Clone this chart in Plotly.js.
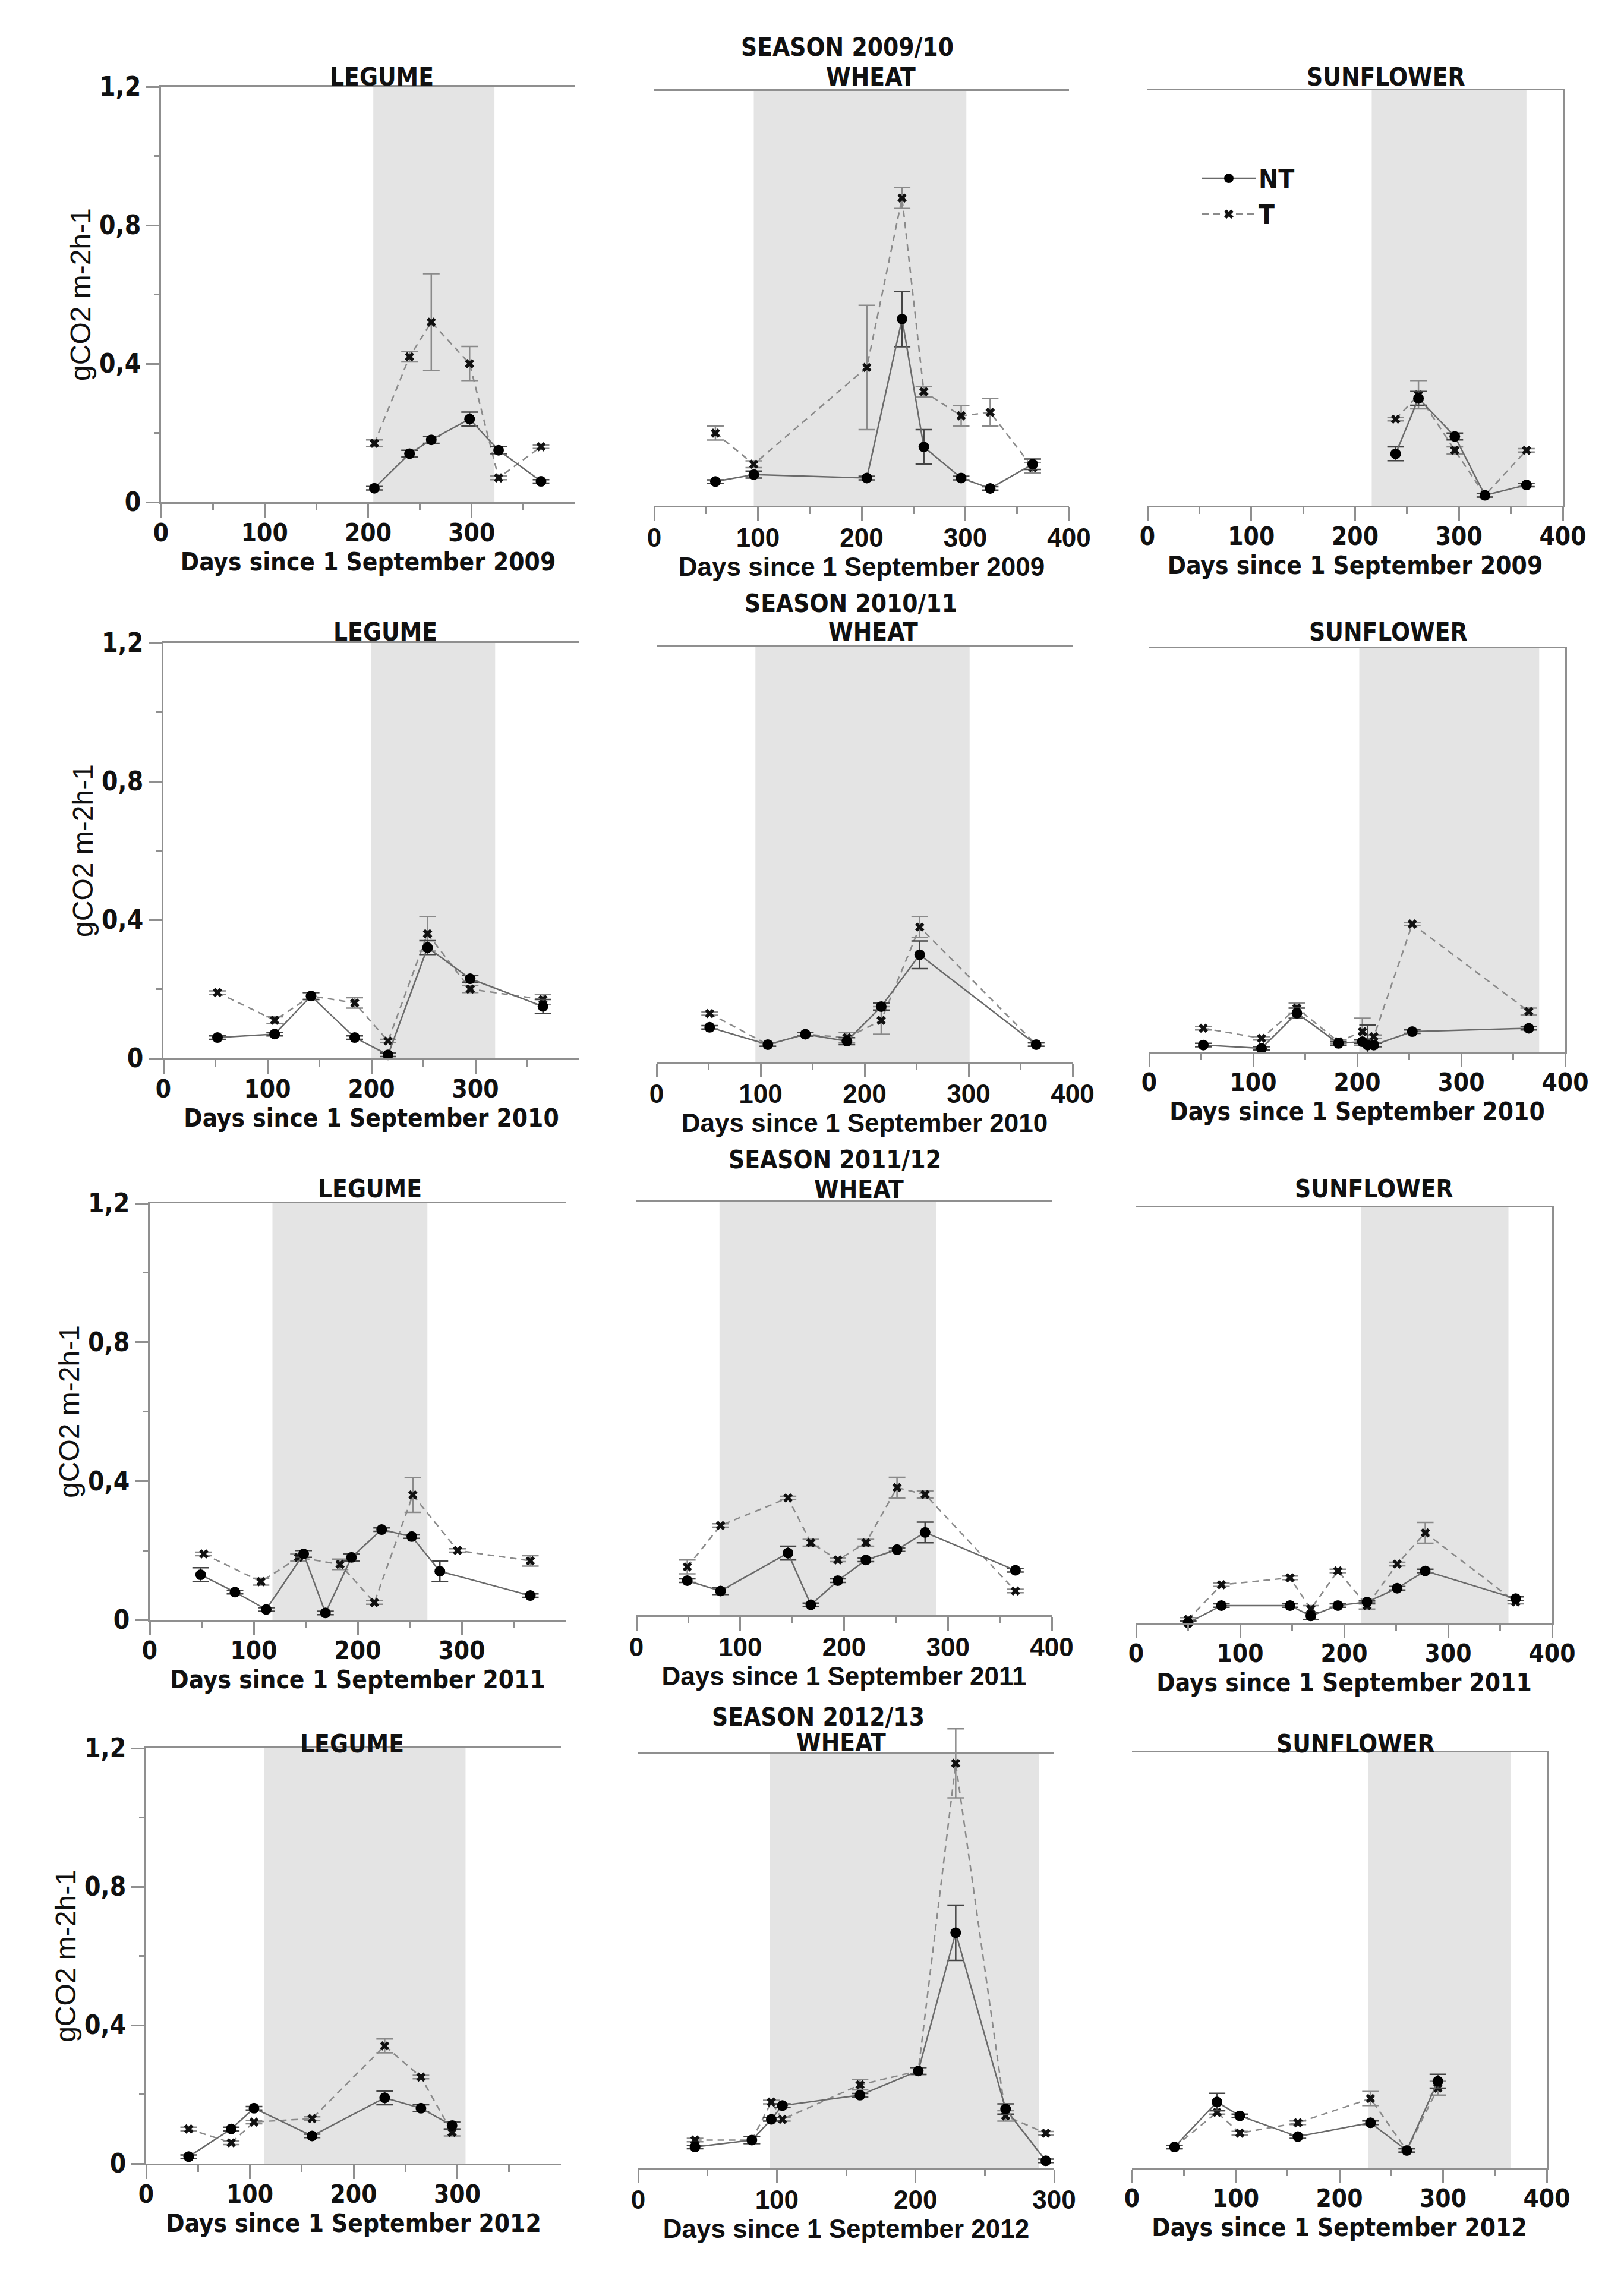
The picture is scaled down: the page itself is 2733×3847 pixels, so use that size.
<!DOCTYPE html>
<html>
<head>
<meta charset="utf-8">
<script src="https://cdn.plot.ly/plotly-3.0.1.min.js"></script>
<style>
  html, body { margin: 0; padding: 0; background: #fff; }
  #chart { width: 2733px; height: 3847px; }
</style>
</head>
<body>
<div id="chart"></div>
<script>
const W = 2733, H = 3847;

// ---- labels ----
const SEASONS = ["SEASON 2009/10", "SEASON 2010/11", "SEASON 2011/12", "SEASON 2012/13"];
const YEARS = ["2009", "2010", "2011", "2012"];
const CROPS = ["LEGUME", "WHEAT", "SUNFLOWER"];
const Y_TICKS = [0, 0.4, 0.8, 1.2];
const Y_TICK_LABELS = ["0", "0,4", "0,8", "1,2"];

// ---- season 2009/10 ----
const leg09Days = [206, 240, 261, 298, 326, 367];
const leg09NT = [0.04, 0.14, 0.18, 0.24, 0.15, 0.06];
const leg09NTErr = [0.005, 0.01, 0.01, 0.02, 0.01, 0.005];
const leg09T = [0.17, 0.42, 0.52, 0.40, 0.07, 0.16];
const leg09TErr = [0.01, 0.015, 0.14, 0.05, 0.005, 0.005];

const whe09Days = [59, 96, 205, 239, 260, 296, 324, 365];
const whe09NT = [0.07, 0.09, 0.08, 0.54, 0.17, 0.08, 0.05, 0.12];
const whe09NTErr = [0.005, 0.01, 0.005, 0.08, 0.05, 0.005, 0.005, 0.015];
const whe09T = [0.21, 0.12, 0.40, 0.89, 0.33, 0.26, 0.27, 0.11];
const whe09TErr = [0.02, 0.01, 0.18, 0.03, 0.015, 0.03, 0.04, 0.015];

const sun09Days = [239, 261, 296, 325, 365];
const sun09NT = [0.15, 0.31, 0.20, 0.03, 0.06];
const sun09NTErr = [0.02, 0.02, 0.01, 0.005, 0.005];
const sun09T = [0.25, 0.32, 0.16, 0.03, 0.16];
const sun09TErr = [0.005, 0.04, 0.01, 0.005, 0.005];

// ---- season 2010/11 ----
const leg10Days = [52, 107, 142, 184, 216, 254, 295, 365];
const leg10NT = [0.06, 0.07, 0.18, 0.06, 0.01, 0.32, 0.23, 0.15];
const leg10NTErr = [0.005, 0.005, 0.01, 0.005, 0.005, 0.02, 0.01, 0.02];
const leg10T = [0.19, 0.11, 0.18, 0.16, 0.05, 0.36, 0.20, 0.17];
const leg10TErr = [0.005, 0.01, 0.01, 0.015, 0.005, 0.05, 0.01, 0.015];

const whe10Days = [51, 107, 143, 183, 216, 253, 365];
const whe10NT = [0.10, 0.05, 0.08, 0.06, 0.16, 0.31, 0.05];
const whe10NTErr = [0.005, 0.005, 0.005, 0.01, 0.01, 0.04, 0.005];
const whe10T = [0.14, 0.05, 0.08, 0.07, 0.12, 0.39, 0.05];
const whe10TErr = [0.005, 0.005, 0.005, 0.015, 0.04, 0.03, 0.005];

const sun10Days = [52, 108, 142, 182, 205, 210, 216, 253, 365];
const sun10NT = [0.02, 0.01, 0.115, 0.025, 0.03, 0.02, 0.02, 0.06, 0.07];
const sun10NTErr = [0.005, 0.005, 0.015, 0.005, 0.005, 0.06, 0.005, 0.005, 0.005];
const sun10T = [0.07, 0.04, 0.13, 0.03, 0.06, null, 0.045, 0.38, 0.12];
const sun10TErr = [0.005, 0.005, 0.015, 0.005, 0.04, 0, 0.005, 0.005, 0.01];

// ---- season 2011/12 ----
const leg11DaysNT = [49, 82, 112, 148, 169, 194, 223, 252, 279, 366];
const leg11NT = [0.13, 0.08, 0.03, 0.19, 0.02, 0.18, 0.26, 0.24, 0.14, 0.07];
const leg11NTErr = [0.02, 0.005, 0.005, 0.01, 0.005, 0.01, 0.005, 0.005, 0.03, 0.005];
const leg11DaysT = [52, 107, 143, 183, 216, 253, 296, 366];
const leg11T = [0.19, 0.11, 0.18, 0.16, 0.05, 0.36, 0.20, 0.17];
const leg11TErr = [0.005, 0.01, 0.01, 0.015, 0.005, 0.05, 0.005, 0.015];

const whe11Days = [49, 81, 146, 168, 194, 221, 251, 278, 365];
const whe11NT = [0.10, 0.07, 0.18, 0.03, 0.10, 0.16, 0.19, 0.24, 0.13];
const whe11NTErr = [0.005, 0.01, 0.02, 0.005, 0.005, 0.005, 0.005, 0.03, 0.005];
const whe11T = [0.14, 0.26, 0.34, 0.21, 0.16, 0.21, 0.37, 0.35, 0.07];
const whe11TErr = [0.02, 0.005, 0.005, 0.01, 0.005, 0.01, 0.03, 0.01, 0.005];

const sun11Days = [50, 82, 148, 168, 194, 222, 251, 278, 365];
const sun11NT = [0.00, 0.05, 0.05, 0.02, 0.05, 0.06, 0.10, 0.15, 0.07];
const sun11NTErr = [0.005, 0.005, 0.005, 0.01, 0.005, 0.005, 0.005, 0.005, 0.005];
const sun11T = [0.01, 0.11, 0.13, 0.04, 0.15, 0.05, 0.17, 0.26, 0.06];
const sun11TErr = [0.005, 0.005, 0.005, 0.01, 0.005, 0.01, 0.005, 0.03, 0.005];

// ---- season 2012/13 ----
const leg12Days = [41, 82, 104, 160, 230, 265, 295];
const leg12NT = [0.02, 0.10, 0.16, 0.08, 0.19, 0.16, 0.11];
const leg12NTErr = [0.005, 0.005, 0.005, 0.005, 0.02, 0.01, 0.01];
const leg12T = [0.10, 0.06, 0.12, 0.13, 0.34, 0.25, 0.09];
const leg12TErr = [0.005, 0.005, 0.005, 0.005, 0.02, 0.005, 0.01];

const whe12Days = [41, 82, 96, 104, 160, 202, 229, 265, 294];
const whe12NT = [0.06, 0.08, 0.14, 0.18, 0.21, 0.28, 0.68, 0.17, 0.02];
const whe12NTErr = [0.005, 0.01, 0.005, 0.005, 0.005, 0.01, 0.08, 0.015, 0.005];
const whe12T = [0.08, 0.08, 0.19, 0.14, 0.24, 0.28, 1.17, 0.15, 0.10];
const whe12TErr = [0.005, 0.01, 0.005, 0.005, 0.015, 0.01, 0.10, 0.015, 0.005];

const sun12Days = [41, 82, 104, 160, 230, 265, 295];
const sun12NT = [0.06, 0.19, 0.15, 0.09, 0.13, 0.05, 0.25];
const sun12NTErr = [0.005, 0.025, 0.005, 0.005, 0.005, 0.005, 0.02];
const sun12T = [0.06, 0.16, 0.10, 0.13, 0.20, 0.05, 0.23];
const sun12TErr = [0.005, 0.005, 0.005, 0.005, 0.02, 0.005, 0.02];

// crop growth periods (grey bands), days
const cropPeriods = [
  [205, 322], [96, 301], [216, 365],
  [200, 319], [95, 301], [202, 375],
  [118, 267], [80, 289], [216, 358],
  [114, 308], [95, 289], [228, 365]
];

const panelData = [
  [leg09Days, leg09NT, leg09NTErr, leg09Days, leg09T, leg09TErr],
  [whe09Days, whe09NT, whe09NTErr, whe09Days, whe09T, whe09TErr],
  [sun09Days, sun09NT, sun09NTErr, sun09Days, sun09T, sun09TErr],
  [leg10Days, leg10NT, leg10NTErr, leg10Days, leg10T, leg10TErr],
  [whe10Days, whe10NT, whe10NTErr, whe10Days, whe10T, whe10TErr],
  [sun10Days, sun10NT, sun10NTErr, sun10Days, sun10T, sun10TErr],
  [leg11DaysNT, leg11NT, leg11NTErr, leg11DaysT, leg11T, leg11TErr],
  [whe11Days, whe11NT, whe11NTErr, whe11Days, whe11T, whe11TErr],
  [sun11Days, sun11NT, sun11NTErr, sun11Days, sun11T, sun11TErr],
  [leg12Days, leg12NT, leg12NTErr, leg12Days, leg12T, leg12TErr],
  [whe12Days, whe12NT, whe12NTErr, whe12Days, whe12T, whe12TErr],
  [sun12Days, sun12NT, sun12NTErr, sun12Days, sun12T, sun12TErr]
];

// ---- page geometry (pixels): [left, right, top, bottom] of each plot frame ----
const FRAMES = [
  [271, 968, 146, 845], [1101, 1799, 153, 851], [1931, 2630, 152, 851],
  [275, 975, 1082, 1781], [1105, 1805, 1089, 1787], [1934, 2634, 1091, 1770],
  [252, 952, 2025, 2726], [1071, 1770, 2022, 2718], [1912, 2612, 2032, 2731],
  [246, 944, 2942, 3641], [1074, 1774, 2950, 3648], [1905, 2603, 2949, 3648]
];
const SEASON_POS = [[1426, 80], [1432, 1016], [1405, 1951], [1377, 2889]];
const CROP_POS = [
  [642, 129], [1465, 129], [2332, 129],
  [648, 1064], [1469, 1064], [2336, 1064],
  [622, 2000], [1445, 2001], [2312, 2000],
  [592, 2934], [1415, 2932], [2281, 2934]
];

const NARROW = '"Liberation Sans Narrow", "DejaVu Sans Condensed", sans-serif';
const WIDE = '"Liberation Sans", Arial, sans-serif';
const AXIS_GREY = "#8f8f8f";
const INK = "#111";

const traces = [];
const shapes = [];
const annotations = [];
const layout = {
  width: W,
  height: H,
  margin: { l: 0, r: 0, t: 0, b: 0 },
  paper_bgcolor: "#fff",
  plot_bgcolor: "rgba(0,0,0,0)",
  showlegend: true,
  legend: {
    x: 2018 / W, y: 1 - 265 / H, xanchor: "left", yanchor: "top",
    traceorder: "reversed",
    font: { family: NARROW, size: 44, color: INK, weight: "bold" },
    bgcolor: "rgba(0,0,0,0)",
    itemwidth: 90,
    tracegroupgap: 2
  }
};

panelData.forEach((d, i) => {
  const n = i + 1;
  const row = Math.floor(i / 3), col = i % 3;
  const [l, r, top, bottom] = FRAMES[i];
  const xId = "x" + n, yId = "y" + n;
  const xmax = (row === 3 && col === 1) ? 300 : 400;
  // the 2012/13 wheat T peak error bar rises above the frame, so give it head room
  const ymax = (row === 3 && col === 1) ? 1.3 : 1.2;
  const plotTop = bottom - (bottom - top) * ymax / 1.2;
  const wheat = col === 1;
  const tickFont = wheat
    ? { family: WIDE, size: 44, color: INK, weight: "bold" }
    : { family: NARROW, size: 42, color: INK, weight: "bold" };

  const majors = (col === 0 || xmax === 300) ? [0, 100, 200, 300] : [0, 100, 200, 300, 400];
  const minors = xmax === 300 ? [50, 150, 250] : [50, 150, 250, 350];

  layout["xaxis" + (n === 1 ? "" : n)] = {
    domain: [l / W, r / W],
    anchor: yId,
    range: [0, xmax],
    tickmode: "array",
    tickvals: majors,
    ticks: "outside", ticklen: 23, tickwidth: 3, tickcolor: AXIS_GREY,
    minor: { tickmode: "array", tickvals: minors, ticks: "outside", ticklen: 11, tickwidth: 3, tickcolor: AXIS_GREY },
    showline: true, linecolor: AXIS_GREY, linewidth: 3, mirror: ymax === 1.2,
    showgrid: false, zeroline: false,
    tickfont: tickFont,
    ticklabelstandoff: -10,
    title: { text: "Days since 1 September " + YEARS[row], font: tickFont, standoff: 0 },
    fixedrange: true
  };
  if (ymax !== 1.2) {
    shapes.push({
      type: "line", xref: xId, yref: yId, x0: 0, x1: xmax, y0: 1.2, y1: 1.2,
      line: { color: AXIS_GREY, width: 3 }
    });
  }

  const yax = {
    domain: [1 - bottom / H, 1 - plotTop / H],
    anchor: xId,
    range: [0, ymax],
    showgrid: false, zeroline: false,
    fixedrange: true
  };
  if (col === 0) {
    Object.assign(yax, {
      tickmode: "array", tickvals: Y_TICKS, ticktext: Y_TICK_LABELS,
      ticks: "outside", ticklen: 22, tickwidth: 3, tickcolor: AXIS_GREY,
      minor: { tickmode: "array", tickvals: [0.2, 0.6, 1.0], ticks: "outside", ticklen: 9, tickwidth: 3, tickcolor: AXIS_GREY },
      showline: true, linecolor: AXIS_GREY, linewidth: 3,
      tickfont: { family: NARROW, size: 44, color: INK, weight: "bold" },
      title: { text: "gCO2 m-2h-1", font: { family: WIDE, size: 48, color: INK }, standoff: 0 }
    });
  } else if (col === 2) {
    Object.assign(yax, {
      side: "right", showline: true, linecolor: AXIS_GREY, linewidth: 3,
      ticks: "", showticklabels: false
    });
  } else {
    Object.assign(yax, { showline: false, ticks: "", showticklabels: false });
  }
  layout["yaxis" + (n === 1 ? "" : n)] = yax;

  shapes.push({
    type: "rect", xref: xId, yref: yId, layer: "below",
    x0: cropPeriods[i][0], x1: cropPeriods[i][1], y0: 0, y1: 1.2,
    fillcolor: "#e4e4e4", line: { width: 0 }
  });

  const [ntDays, nt, ntErr, tDays, t, tErr] = d;
  traces.push({
    type: "scatter", mode: "lines+markers", name: "T", legendgroup: "T",
    showlegend: i === 0,
    x: tDays, y: t, xaxis: xId, yaxis: yId,
    connectgaps: true, cliponaxis: false,
    line: { color: "#8a8a8a", width: 2.5, dash: "11px,8px" },
    marker: { symbol: "x", size: 14, color: "#111" },
    error_y: { type: "data", array: tErr, visible: true, color: "#8a8a8a", thickness: 2.5, width: 14 }
  });
  traces.push({
    type: "scatter", mode: "lines+markers", name: "NT", legendgroup: "NT",
    showlegend: i === 0,
    x: ntDays, y: nt, xaxis: xId, yaxis: yId,
    connectgaps: true, cliponaxis: false,
    line: { color: "#6a6a6a", width: 2.5 },
    marker: { symbol: "circle", size: 18, color: "#000" },
    error_y: { type: "data", array: ntErr, visible: true, color: "#444", thickness: 2.5, width: 14 }
  });

  annotations.push({
    xref: "paper", yref: "paper", x: CROP_POS[i][0] / W, y: 1 - CROP_POS[i][1] / H,
    xanchor: "center", yanchor: "middle", showarrow: false,
    text: CROPS[col],
    font: { family: NARROW, size: 42, color: INK, weight: "bold" }
  });
});

SEASONS.forEach((s, k) => {
  annotations.push({
    xref: "paper", yref: "paper", x: SEASON_POS[k][0] / W, y: 1 - SEASON_POS[k][1] / H,
    xanchor: "center", yanchor: "middle", showarrow: false,
    text: s,
    font: { family: NARROW, size: 42, color: INK, weight: "bold" }
  });
});

layout.shapes = shapes;
layout.annotations = annotations;

Plotly.newPlot("chart", traces, layout, { staticPlot: true });
</script>
</body>
</html>
